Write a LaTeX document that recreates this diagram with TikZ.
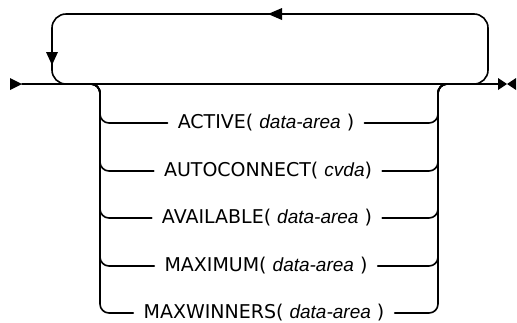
\documentclass[tikz,border=0pt]{standalone}
\usepackage{fontspec}
\setmainfont{DejaVu Sans}
\newfontfamily\varfont{Liberation Sans}
\newcommand{\var}[1]{{\varfont\itshape #1}}
\begin{document}
\begin{tikzpicture}[x=1bp,y=-1bp,
  rail/.style={line width=1.6bp, line cap=round},
  rc/.style={rail, rounded corners=9bp},
  kw/.style={inner sep=0pt, inner xsep=10bp, font=\fontsize{19bp}{22bp}\selectfont, anchor=center}]
\useasboundingbox (0,0) rectangle (517,322);
% main line
\coordinate (start) at (22,84);
\coordinate (stop) at (498,84);
\draw[rail] (start) -- (stop);
\fill (10,78) -- (22,84) -- (10,90) -- cycle;
\fill (498,78) -- (507,84) -- (498,90) -- cycle;
\fill (516,78) -- (507,84) -- (516,90) -- cycle;
% repeat loop
\draw[rail, rounded corners=14bp] (470,84) -| (488,14) -| (52,84) -- (70,84);
\fill (268,14) -- (282,8) -- (282,20) -- cycle;
\fill (52,65) -- (46,52) -- (58,52) -- cycle;
% choices
\node[kw] (r1) at (266,123) {ACTIVE( \var{data-area} )};
\node[kw] (r2) at (268,171) {AUTOCONNECT( \var{cvda})};
\node[kw] (r3) at (267,218) {AVAILABLE( \var{data-area} )};
\node[kw] (r4) at (266,266) {MAXIMUM( \var{data-area} )};
\node[kw] (r5) at (264,313) {MAXWINNERS( \var{data-area} )};
\foreach \r in {r1,r2,r3,r4,r5}{
  \draw[rc] (86,84) -| (100,100) |- (\r.west);
  \draw[rc] (\r.east) -| (438,100) |- (452,84);
}
\end{tikzpicture}
\end{document}
